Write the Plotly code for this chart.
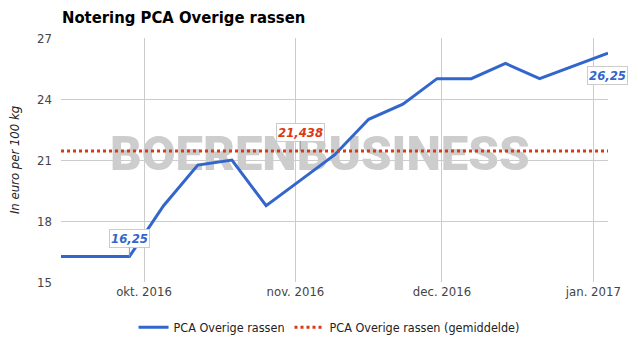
import numpy as np
import plotly.graph_objects as go

# Weekly quotation, euro per 100 kg
dates = ["2016-09-14", "2016-09-21", "2016-09-28", "2016-10-05", "2016-10-12",
         "2016-10-19", "2016-10-26", "2016-11-02", "2016-11-09", "2016-11-16",
         "2016-11-23", "2016-11-30", "2016-12-07", "2016-12-14", "2016-12-21",
         "2017-01-04"]
prices = [16.25, 16.25, 16.25, 18.75, 20.75, 21.0, 18.75, 20.0, 21.25, 23.0,
          23.75, 25.0, 25.0, 25.75, 25.0, 26.25]

tick_dates = ["2016-10-01", "2016-11-01", "2016-12-01", "2017-01-01"]
tick_labels = ["okt. 2016", "nov. 2016", "dec. 2016", "jan. 2017"]
y_ticks = [15, 18, 21, 24, 27]

series_name = "PCA Overige rassen"
mean_name = "PCA Overige rassen (gemiddelde)"
watermark = "BOERENBUSINESS"

BLUE = "#3366cc"
RED = "#dc3912"
FONT = "DejaVu Sans Condensed"

mean_price = float(np.mean(prices))


def nl(v, digits):
    s = f"{v:.{digits}f}".rstrip("0").rstrip(".") if digits > 2 else f"{v:.2f}"
    return s.replace(".", ",")


fig = go.Figure()

# watermark sits underneath the data lines
fig.add_trace(go.Scatter(
    x=["2016-11-06"], y=[21.1], mode="text", text=[watermark],
    textfont=dict(family="Roboto", size=49, color="#cdcdcd", weight=900),
    showlegend=False, hoverinfo="skip", cliponaxis=False,
))

fig.add_trace(go.Scatter(
    x=dates, y=prices, mode="lines", name=series_name,
    line=dict(color=BLUE, width=3),
))

fig.add_trace(go.Scatter(
    x=[dates[0], dates[-1]], y=[mean_price, mean_price], mode="lines",
    name=mean_name, line=dict(color=RED, width=3, dash="dot"),
))

box = dict(bgcolor="white", bordercolor="#cccccc", borderwidth=1, borderpad=1)

fig.add_annotation(
    x=dates[2], y=prices[2], text=nl(prices[2], 2), showarrow=True,
    arrowhead=0, arrowwidth=1, arrowcolor="#999999", ax=0, ay=-18,
    font=dict(family=FONT, size=13, color=BLUE, style="italic", weight="bold"),
    **box,
)
fig.add_annotation(
    x=dates[7], y=mean_price, text=nl(mean_price, 3), showarrow=True,
    arrowhead=0, arrowwidth=1, arrowcolor="#999999", ax=0, ay=-19,
    font=dict(family=FONT, size=13, color=RED, style="italic", weight="bold"),
    **box,
)
fig.add_annotation(
    x=dates[-1], y=prices[-1], text=nl(prices[-1], 2), showarrow=False,
    xanchor="left", yanchor="top", xshift=-21, yshift=-13,
    font=dict(family=FONT, size=13, color=BLUE, style="italic", weight="bold"),
    **box,
)

fig.update_layout(
    width=638, height=347,
    margin=dict(l=61, r=30, t=38, b=65, autoexpand=False),
    paper_bgcolor="white", plot_bgcolor="white",
    font=dict(family=FONT, size=13, color="#444444"),
    title=dict(text="<b>Notering PCA Overige rassen</b>", xref="container",
               yref="container", x=62 / 638, xanchor="left", y=1 - 17 / 347,
               yanchor="middle",
               font=dict(family=FONT, size=16.5, color="#000000")),
    xaxis=dict(type="date", range=["2016-09-14", "2017-01-04"],
               tickvals=tick_dates, ticktext=tick_labels,
               showgrid=True, gridcolor="#cccccc", gridwidth=1,
               zeroline=False, showline=False, ticks="",
               tickfont=dict(size=13, color="#444444")),
    yaxis=dict(range=[15, 27], tickvals=y_ticks,
               showgrid=True, gridcolor="#cccccc", gridwidth=1,
               zeroline=False, showline=False, ticks="", ticklabelstandoff=8,
               tickfont=dict(size=13, color="#444444"),
               title=dict(text="In euro per 100 kg", standoff=14,
                          font=dict(size=13, color="#222222", style="italic"))),
    legend=dict(orientation="h", x=0.49, xanchor="center", y=-0.125,
                yanchor="top", font=dict(size=12.5, color="#222222"),
                itemwidth=30),
    showlegend=True,
)

fig.write_html("out.html")
